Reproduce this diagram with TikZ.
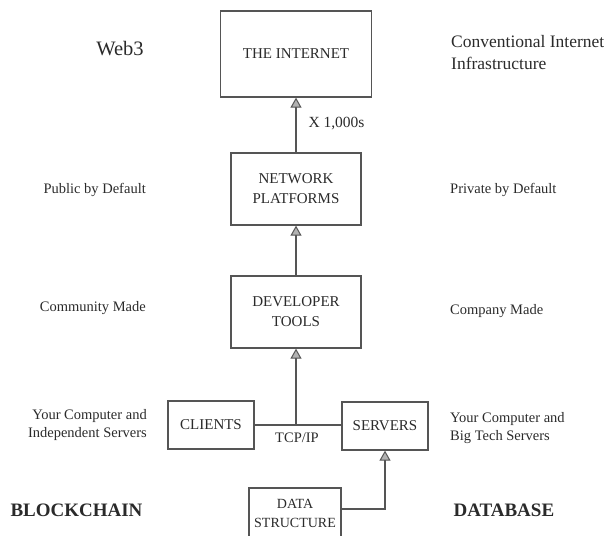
\documentclass[tikz,border=0pt]{standalone}
\usepackage{fontspec}
\setmainfont{Liberation Serif}
\usetikzlibrary{arrows.meta,positioning}

\definecolor{linegray}{HTML}{555555}
\definecolor{textgray}{HTML}{2A2A2A}

\tikzset{
  box/.style={draw=linegray, line width=1.3pt, align=center, inner sep=0pt,
    font=\fontsize{15}{20}\selectfont, text=textgray},
  side/.style={font=\fontsize{14.5}{18.5}\selectfont, text=textgray, inner sep=0pt},
  link/.style={draw=linegray, line width=1.3pt},
  feed/.style={link, -{Triangle[length=10pt,width=11pt,line width=1pt,fill=gray!60]}}
}

\begin{document}
\begin{tikzpicture}[x=1pt,y=-1pt]

		% Canvas
		\useasboundingbox (0,0) rectangle (615,535);

		% Stack of layers
		\node[box, minimum width=151pt, minimum height=86pt] (internet) at (296,54) {THE INTERNET};
		\node[box, minimum width=130pt, minimum height=72pt] (platforms) at (296,189) {NETWORK\\PLATFORMS};
		\node[box, minimum width=130pt, minimum height=72pt] (tools) at (296,312) {DEVELOPER\\TOOLS};
		\node[box, minimum width=86pt, minimum height=48pt] (clients) at (211,425) {CLIENTS};
		\node[box, minimum width=86pt, minimum height=48pt] (servers) at (385,426) {SERVERS};
		\node[box, minimum width=92pt, minimum height=50pt, font=\fontsize{14}{19}\selectfont] (data) at (295,513) {DATA\\STRUCTURE};

		% Connectors
		\coordinate (hub) at (296,425);
		\draw[feed] (platforms) -- (internet);
		\draw[feed] (tools) -- (platforms);
		\draw[link] (clients.east |- hub) -- (servers.west |- hub);
		\draw[feed] (hub) -- (tools);
		\draw[feed] (data.east |- 0,509) -| (servers);

		% Connector labels
		\node[font=\fontsize{15.5}{18}\selectfont, text=textgray, anchor=west] (count) at (305,124) {X 1,000s};
		\node[side] (tcp) at (297,438) {TCP/IP};

		% Web3 side
		\node[font=\fontsize{20.5}{24}\selectfont, text=textgray] (web3) at (120,49) {Web3};
		\node[side, anchor=east, align=right] (public) at (146,190) {Public by Default};
		\node[side, anchor=east, align=right] (community) at (146,308) {Community Made};
		\node[side, anchor=east, align=right] (independent) at (147,425) {Your Computer and\\Independent Servers};
		\node[font=\bfseries\fontsize{19}{22}\selectfont, text=textgray, anchor=east] (blockchain) at (146,510) {BLOCKCHAIN};

		% Conventional side
		\node[font=\fontsize{17.5}{22}\selectfont, text=textgray, anchor=west, align=left, inner sep=0pt] (conventional) at (451,53) {Conventional Internet\\Infrastructure};
		\node[side, anchor=west, align=left] (private) at (450,190) {Private by Default};
		\node[side, anchor=west, align=left] (company) at (450,311) {Company Made};
		\node[side, anchor=west, align=left] (bigtech) at (450,428) {Your Computer and\\Big Tech Servers};
		\node[font=\bfseries\fontsize{19}{22}\selectfont, text=textgray, anchor=west] (database) at (450,510) {DATABASE};

	\end{tikzpicture}
\end{document}
